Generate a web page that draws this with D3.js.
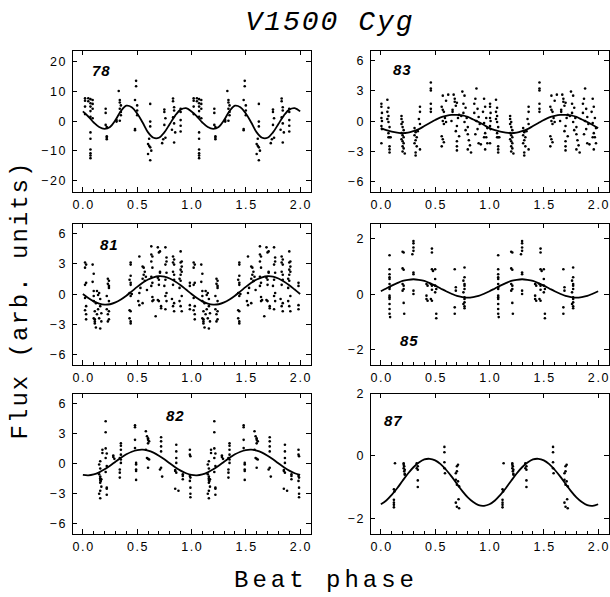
<!DOCTYPE html>
<html><head><meta charset="utf-8">
<script src="https://cdn.jsdelivr.net/npm/d3@7"></script>
<style>
html,body{margin:0;padding:0;background:#fff;}
svg{display:block;}
</style></head>
<body><svg id="c" width="610" height="597"></svg>
<script>
// ---------------- DATA ----------------
const title = "V1500 Cyg";
const xLabel = "Beat phase";
const yLabel = "Flux (arb. units)";
const xTicks = [0, 0.5, 1.0, 1.5, 2.0];
const yTicksLarge = [-20, -10, 0, 10, 20];
const yTicksMid = [-6, -3, 0, 3, 6];
const yTicksSmall = [-2, 0, 2];
const curvePhase = [0,0.05,0.1,0.15,0.2,0.25,0.3,0.35,0.4,0.45,0.5,0.55,0.6,0.65,0.7,0.75,0.8,0.85,0.9,0.95,1.0];

const curve78 = [3.2,1.5,-0.5,-2.0,-2.6,-2.0,0.3,3.3,5.1,4.6,2.5,-0.5,-3.8,-5.6,-5.6,-3.8,-1.0,1.8,3.8,4.3,3.2];
const curve83 = [-0.7,-0.9,-1.05,-1.15,-1.2,-1.15,-1.0,-0.8,-0.5,-0.2,0.1,0.35,0.5,0.6,0.6,0.55,0.4,0.15,-0.1,-0.4,-0.7];
const curve81 = [0.0,-0.40,-0.73,-0.95,-1.05,-1.01,-0.83,-0.54,-0.17,0.26,0.70,1.10,1.43,1.65,1.75,1.71,1.53,1.24,0.87,0.44,0.0];
const curve85 = [0.10,0.20,0.30,0.39,0.47,0.51,0.53,0.51,0.47,0.39,0.30,0.20,0.10,0.01,-0.07,-0.11,-0.13,-0.11,-0.07,0.01,0.10];
const curve82 = [-1.13,-1.17,-1.08,-0.88,-0.58,-0.22,0.18,0.57,0.91,1.17,1.33,1.37,1.28,1.08,0.78,0.42,0.02,-0.37,-0.71,-0.97,-1.13];
const curve87 = [-1.55,-1.43,-1.25,-1.04,-0.80,-0.57,-0.37,-0.22,-0.12,-0.10,-0.15,-0.27,-0.45,-0.66,-0.90,-1.13,-1.33,-1.48,-1.58,-1.60,-1.55];

// observed points, one beat cycle: [phase, flux]
const pts78 = [
 [0.02,7.6],[0.02,6.8],[0.02,4.8],[0.02,2.3],[0.05,7.6],[0.05,6.6],
 [0.07,7.3],[0.07,5.9],[0.07,4.8],[0.07,3.3],[0.07,1.4],[0.07,-3.8],[0.07,-5.9],[0.07,-9.5],[0.07,-10.8],[0.07,-11.5],[0.07,-12.4],
 [0.09,7.0],[0.09,5.7],[0.09,4.1],[0.09,0.9],
 [0.21,4.1],[0.21,2.7],[0.21,-1.3],[0.22,-2.0],[0.22,-5.1],[0.22,-5.6],[0.22,-6.1],
 [0.31,0.3],[0.31,-0.2],[0.33,10.0],[0.34,7.0],[0.34,6.2],[0.35,5.2],[0.34,4.1],[0.35,3.0],[0.35,1.9],[0.34,0.1],
 [0.49,13.4],[0.49,11.6],[0.48,7.0],[0.5,5.2],[0.5,3.5],[0.5,1.9],[0.48,-2.7],[0.48,-3.1],
 [0.62,5.7],[0.62,-0.2],[0.62,-1.8],[0.61,-5.9],[0.6,-7.7],[0.61,-8.3],[0.62,-8.8],[0.63,-9.9],[0.6,-11.0],[0.62,-13.1],
 [0.75,3.8],[0.75,3.0],[0.76,0.9],[0.75,-1.3],[0.76,-5.6],[0.74,-6.1],[0.73,-7.4],
 [0.83,7.5],[0.83,6.6],[0.84,4.6],[0.84,3.5],[0.83,1.2],[0.84,-0.8],[0.82,-2.9],[0.85,-3.8],[0.84,-7.2],
 [0.9,4.1],[0.9,3.0],[0.9,0.3],[0.9,-1.6],[0.9,-3.5]
];
const pts83 = [
 [0.005,1.7],[0.005,1.4],[0.01,0.8],[0.005,0.3],[0.01,0.0],[0.005,-0.5],[0.01,-0.8],[0.005,-2.2],
 [0.06,2.1],[0.07,1.3],[0.06,0.9],[0.07,0.5],[0.06,0.2],[0.07,-0.1],[0.08,-0.6],[0.07,-1.2],[0.07,-1.6],[0.08,-1.6],[0.09,-1.6],[0.08,-2.5],[0.08,-2.8],[0.08,-3.1],
 [0.19,0.5],[0.19,0.2],[0.2,-0.1],[0.19,-0.3],[0.2,-0.6],[0.21,-0.9],[0.19,-1.2],[0.2,-1.4],[0.21,-1.6],[0.19,-1.8],[0.2,-2.0],[0.21,-2.2],[0.2,-2.5],[0.21,-2.7],[0.2,-3.0],[0.22,-3.2],
 [0.31,-0.7],[0.32,-1.1],[0.31,-1.4],[0.33,-1.6],[0.32,-1.9],[0.31,-2.2],[0.33,-2.5],[0.32,-3.1],[0.32,-3.4],[0.34,-1.0],
 [0.36,1.4],[0.36,0.9],[0.35,0.2],[0.36,-0.3],[0.36,-2.8],
 [0.46,3.8],[0.46,3.2],[0.46,3.0],[0.46,1.7],[0.46,1.2],[0.46,0.9],
 [0.57,2.5],[0.56,1.4],[0.57,1.1],[0.58,0.9],[0.59,0.3],[0.57,0.0],[0.6,-0.1],[0.58,-0.3],[0.56,-1.5],[0.57,-1.8],[0.58,-2.1],[0.56,-2.5],[0.6,2.0],[0.62,2.6],
 [0.67,2.6],[0.68,2.2],[0.68,1.9],[0.7,1.8],[0.69,1.5],[0.66,0.9],[0.71,0.3],[0.65,0.0],[0.7,-0.5],[0.69,-1.0],[0.72,-1.5],[0.7,-2.0],[0.7,-2.5],[0.7,-2.9],[0.72,0.6],[0.66,1.1],
 [0.75,2.9],[0.77,2.5],[0.76,1.7],[0.78,1.3],[0.76,0.8],[0.79,0.3],[0.77,-0.1],[0.8,-0.6],[0.78,-0.9],[0.8,-1.3],[0.81,-1.9],[0.82,-2.4],[0.8,-2.8],[0.83,-3.1],[0.74,0.5],
 [0.88,3.2],[0.87,2.2],[0.89,1.2],[0.86,0.8],[0.9,0.4],[0.88,0.0],[0.91,-0.3],[0.89,-0.8],[0.87,-1.3],[0.9,-2.2],[0.92,-2.3],[0.86,1.7],
 [0.95,2.2],[0.96,1.4],[0.94,0.9],[0.97,0.3],[0.95,-0.2],[0.98,-0.7],[0.96,-1.2],[0.95,-1.6],[0.97,-1.6],[0.98,-2.2],[0.96,-2.8]
];
const pts81 = [
 [0.02,3.1],[0.03,2.9],[0.02,2.6],[0.03,1.1],[0.02,0.9],[0.02,-0.4],[0.03,-1.2],[0.02,-1.6],[0.03,-2.0],[0.03,-2.5],
 [0.09,2.9],[0.1,2.0],[0.09,1.2],[0.1,0.3],[0.1,-0.2],[0.1,-0.7],[0.11,-1.7],[0.1,-2.4],[0.11,-2.5],[0.11,-2.7],[0.11,-2.9],
 [0.13,0.3],[0.15,0.1],[0.14,-0.1],[0.16,-0.5],[0.12,-0.9],[0.16,-1.2],[0.14,-1.5],[0.17,-1.9],[0.13,-2.0],[0.15,-2.4],[0.17,-2.7],[0.12,-3.3],[0.16,-3.4],
 [0.23,1.5],[0.24,1.3],[0.23,1.0],[0.24,0.8],[0.24,0.6],[0.22,-0.2],[0.24,-0.7],[0.22,-1.5],[0.24,-1.7],[0.23,-2.0],[0.24,-2.5],[0.23,-2.7],
 [0.44,3.1],[0.44,2.9],[0.44,1.8],[0.43,1.4],[0.44,1.1],[0.44,0.9],[0.43,0.1],[0.45,0.0],[0.44,-0.2],[0.43,-1.6],[0.44,-1.7],[0.43,-2.4],[0.44,-2.7],[0.44,-2.9],
 [0.52,3.7],[0.55,2.7],[0.56,2.6],[0.57,2.2],[0.56,1.9],[0.58,1.7],[0.55,1.5],[0.57,1.3],[0.53,0.6],[0.59,0.4],[0.52,0.1],[0.51,-0.7],[0.55,-0.9],[0.52,-1.1],
 [0.63,4.7],[0.63,3.9],[0.64,3.7],[0.63,3.2],[0.64,2.6],[0.63,1.7],[0.64,1.1],[0.63,0.8],[0.64,-0.3],[0.65,-0.6],[0.64,-0.7],[0.67,-2.2],
 [0.69,4.6],[0.71,4.2],[0.7,4.1],[0.71,2.2],[0.71,2.1],[0.69,1.6],[0.7,1.4],[0.7,0.9],[0.69,-0.6],[0.7,-0.7],[0.72,-1.2],[0.72,-1.4],
 [0.76,4.6],[0.77,3.6],[0.77,3.2],[0.76,2.9],[0.77,2.1],[0.76,1.4],[0.75,0.8],[0.77,0.1],[0.76,-0.2],[0.77,-0.7],[0.76,-1.5],
 [0.83,3.7],[0.84,3.4],[0.83,3.1],[0.84,2.9],[0.83,2.2],[0.84,1.9],[0.84,1.4],[0.83,0.9],[0.82,-0.5],[0.84,-0.9],[0.83,-1.2],[0.84,-1.7],
 [0.9,4.2],[0.91,3.2],[0.9,3.1],[0.91,2.7],[0.9,2.4],[0.91,2.2],[0.9,1.9],[0.89,1.5],[0.9,1.3],[0.89,0.6],[0.91,-0.2],[0.89,-0.7],[0.9,-1.2],[0.91,-1.7],
 [0.985,1.1],[0.985,0.8],[0.985,-1.1],[0.985,-1.5]
];
const pts85 = [
 [0.08,1.39],[0.08,0.89],[0.08,0.71],[0.08,0.60],[0.08,0.54],[0.08,0.36],[0.08,0.24],[0.08,0.18],[0.08,-0.06],[0.08,-0.12],[0.08,-0.18],[0.08,-0.36],[0.08,-0.54],[0.08,-0.71],[0.085,-0.83],
 [0.2,1.52],[0.21,1.49],[0.2,0.92],[0.21,0.87],[0.2,0.36],[0.21,0.30],[0.21,0.18],[0.2,0.12],[0.21,-0.32],[0.215,-0.71],
 [0.3,1.9],[0.3,1.82],[0.3,1.67],[0.3,1.55],[0.29,1.43],[0.3,0.77],[0.3,0.71],[0.3,0.12],[0.3,0.0],
 [0.42,0.36],[0.43,0.30],[0.42,-0.06],[0.42,-0.18],[0.43,-0.24],
 [0.47,1.63],[0.47,1.49],[0.47,0.89],[0.48,0.83],[0.46,0.36],[0.47,0.30],[0.47,0.15],[0.46,-0.18],[0.47,-0.24],
 [0.5,0.89],[0.5,0.54],[0.5,0.30],[0.51,0.18],[0.5,0.06],[0.51,-0.71],[0.51,-0.87],
 [0.68,0.89],[0.69,0.24],[0.69,0.12],[0.68,-0.48],[0.68,-0.71],
 [0.77,0.95],[0.77,0.6],[0.76,0.48],[0.77,0.36],[0.77,0.3],[0.77,0.18],[0.76,0.06],[0.77,-0.12],[0.77,-0.18],[0.77,-0.3],[0.76,-0.36],[0.77,-0.44],[0.77,-0.51]
];
const pts82 = [
 [0.16,0.23],[0.15,-0.1],[0.16,-0.5],[0.15,-1.07],[0.16,-1.3],[0.16,-1.47],[0.17,-1.56],[0.16,-1.63],[0.165,-1.73],[0.16,-1.9],[0.17,-2.3],[0.16,-2.7],[0.15,-3.0],[0.16,-3.45],[0.18,1.04],[0.18,1.37],
 [0.21,4.2],[0.21,3.1],[0.21,1.5],[0.22,1.0],[0.21,0.55],[0.22,-0.26],[0.21,-0.85],[0.22,-2.4],[0.22,-2.5],[0.22,-3.1],
 [0.28,0.8],[0.28,0.65],[0.29,0.46],
 [0.35,2.0],[0.35,1.76],[0.35,1.37],[0.35,0.88],[0.34,0.55],[0.35,0.39],[0.35,0.06],[0.34,-0.59],[0.34,-0.91],[0.34,-1.4],
 [0.48,3.8],[0.48,3.6],[0.48,2.35],[0.48,1.53],[0.49,0.06],[0.49,-0.1],[0.49,-0.59],[0.49,-0.75],[0.49,-1.63],
 [0.58,3.2],[0.59,2.7],[0.6,2.5],[0.6,2.35],[0.61,2.2],[0.6,2.0],[0.58,1.37],[0.59,0.55],[0.6,0.46],[0.61,0.39],[0.6,-0.42],
 [0.72,2.6],[0.72,2.2],[0.72,1.7],[0.72,1.2],[0.72,-0.42],[0.71,-0.59],[0.73,-1.3],
 [0.86,1.86],[0.86,1.2],[0.86,0.55],[0.86,0.06],[0.85,-0.65],[0.85,-0.75],[0.86,-0.91],[0.85,-2.5],[0.88,-2.7],
 [0.92,-1.07],[0.92,-1.24],[0.92,-1.56],
 [0.985,1.37],[0.985,0.88],[0.99,0.72],[0.985,-1.24],[0.99,-1.4],[0.985,-1.73],[0.99,-2.4],[0.99,-3.0],[0.99,-3.35]
];
const pts87 = [
 [0.13,-0.24],[0.12,-1.07],[0.125,-1.14],[0.12,-1.41],[0.12,-1.5],[0.12,-1.57],[0.12,-1.65],
 [0.21,-0.24],[0.21,-0.29],[0.215,-0.34],[0.21,-0.4],[0.22,-0.45],[0.215,-0.5],[0.22,-0.58],[0.22,-0.61],
 [0.33,-0.24],[0.34,-0.34],[0.33,-0.4],[0.34,-0.45],[0.34,-0.79],[0.34,-1.0],
 [0.585,0.28],[0.585,0.11],[0.585,-0.21],[0.585,-0.4],[0.59,-0.56],
 [0.71,-0.29],[0.7,-0.34],[0.7,-0.5],[0.69,-0.56],[0.69,-0.77],[0.71,-0.82],[0.7,-0.93],[0.72,-0.98],[0.69,-1.5],[0.7,-1.63],[0.72,-1.68],[0.715,-1.39]
];

// ---------------- LAYOUT ----------------
const colX = [[72,311],[370,609]];
const rowY = [[50,192],[223,365],[393,534]];
const panels = [
 {name:"78", col:0,row:0, yDom:[-23.7,23.7], yTicks:yTicksLarge, pts:pts78, curve:curve78, lab:[92,76]},
 {name:"83", col:1,row:0, yDom:[-7,7], yTicks:yTicksMid, pts:pts83, curve:curve83, lab:[393,75]},
 {name:"81", col:0,row:1, yDom:[-7,7], yTicks:yTicksMid, pts:pts81, curve:curve81, lab:[100,250]},
 {name:"85", col:1,row:1, yDom:[-2.55,2.55], yTicks:yTicksSmall, pts:pts85, curve:curve85, lab:[400,346]},
 {name:"82", col:0,row:2, yDom:[-7,7], yTicks:yTicksMid, pts:pts82, curve:curve82, lab:[166,421]},
 {name:"87", col:1,row:2, yDom:[-2.5,2.0], yTicks:yTicksSmall, pts:pts87, curve:curve87, lab:[384,426]}
];

const svg = d3.select("#c");
const tickFont = "Liberation Sans, Arial, sans-serif";
const minorTicks = d3.range(0, 2.0001, 0.1);
const fmtX = d3.format(".1f");
const fmtY = d3.format("d");

panels.forEach(p => {
  const [x0,x1] = colX[p.col], [y0,y1] = rowY[p.row];
  const x = d3.scaleLinear().domain([-0.1,2.1]).range([x0,x1]);
  const y = d3.scaleLinear().domain(p.yDom).range([y1,y0]);
  const g = svg.append("g");

  // frame
  g.append("rect").attr("x",x0).attr("y",y0).attr("width",x1-x0).attr("height",y1-y0)
    .attr("fill","none").attr("stroke","#000").attr("stroke-width",1).attr("shape-rendering","crispEdges");

  // x ticks
  const tk = g.append("g").attr("stroke","#000").attr("stroke-width",1).attr("shape-rendering","crispEdges");
  minorTicks.forEach(v => {
    tk.append("line").attr("x1",x(v)).attr("x2",x(v)).attr("y1",y1).attr("y2",y1-3);
  });
  xTicks.forEach(v => {
    tk.append("line").attr("x1",x(v)).attr("x2",x(v)).attr("y1",y1).attr("y2",y1-5);
    tk.append("line").attr("x1",x(v)).attr("x2",x(v)).attr("y1",y0).attr("y2",y0+5);
  });
  p.yTicks.forEach(v => {
    tk.append("line").attr("x1",x0).attr("x2",x0+5).attr("y1",y(v)).attr("y2",y(v));
    tk.append("line").attr("x1",x1).attr("x2",x1-5).attr("y1",y(v)).attr("y2",y(v));
  });
  // tick labels
  xTicks.forEach(v => {
    g.append("text").attr("x",x(v)+0.8).attr("y",y1+16.5).attr("text-anchor","middle")
      .attr("font-family",tickFont).attr("font-size",12.5).attr("letter-spacing","1.6px")
      .attr("fill","#000").text(fmtX(v));
  });
  p.yTicks.forEach(v => {
    g.append("text").attr("x",x0-5).attr("y",y(v)+4.5).attr("text-anchor","end")
      .attr("font-family",tickFont).attr("font-size",12.5).attr("letter-spacing","1.6px")
      .attr("fill","#000").text(fmtY(v));
  });

  // curve (two cycles)
  const cdata = [];
  [0,1].forEach(k => curvePhase.forEach((ph,i) => { if(!(k===1 && i===0)) cdata.push([ph+k, p.curve[i]]); }));
  g.append("path").datum(cdata)
    .attr("d", d3.line().x(d=>x(d[0])).y(d=>y(d[1])).curve(d3.curveCatmullRom))
    .attr("fill","none").attr("stroke","#000").attr("stroke-width",1.8);

  // points (two cycles)
  const pdata = [];
  [0,1].forEach(k => p.pts.forEach(d => pdata.push([d[0]+k, d[1]])));
  g.append("g").selectAll("circle").data(pdata).join("circle")
    .attr("cx",d=>x(d[0])).attr("cy",d=>y(d[1])).attr("r",1.3).attr("fill","#000");

  // panel label
  g.append("text").attr("x",p.lab[0]).attr("y",p.lab[1])
    .attr("font-family",tickFont).attr("font-size",15).attr("font-weight","bold").attr("font-style","italic")
    .attr("letter-spacing","1px").attr("fill","#000").text(p.name);
});

// titles
svg.append("text").attr("x",330).attr("y",30).attr("text-anchor","middle")
  .attr("font-family","Liberation Mono, DejaVu Sans Mono, monospace").attr("font-style","italic")
  .attr("font-size",28).attr("letter-spacing","2px").attr("fill","#000").text(title);
svg.append("text").attr("x",326).attr("y",587).attr("text-anchor","middle")
  .attr("font-family","Liberation Mono, DejaVu Sans Mono, monospace")
  .attr("font-size",24).attr("letter-spacing","4px").attr("fill","#000").text(xLabel);
svg.append("text").attr("transform","translate(27,300) rotate(-90)").attr("text-anchor","middle")
  .attr("font-family","Liberation Mono, DejaVu Sans Mono, monospace")
  .attr("font-size",24).attr("letter-spacing","2px").attr("fill","#000").text(yLabel);
</script>
</body></html>
